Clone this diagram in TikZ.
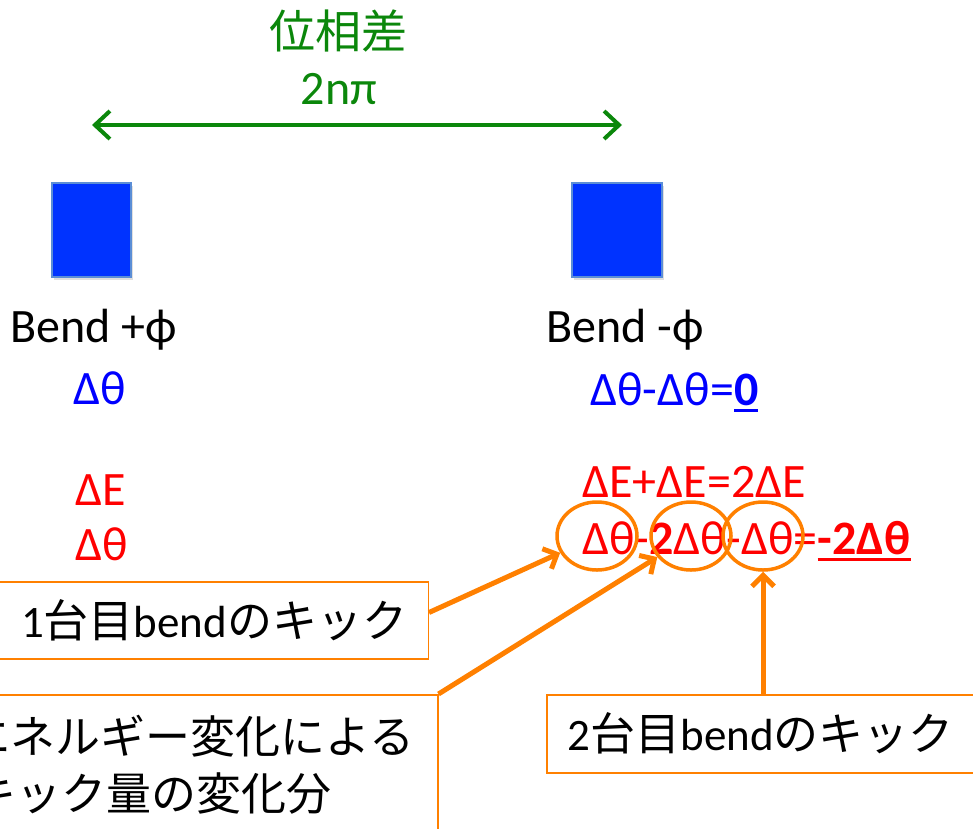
\documentclass[tikz,border=0pt]{standalone}
\usepackage{fontspec}
\setmainfont{Carlito}
\newfontfamily\cjk{Noto Sans CJK JP}
\usetikzlibrary{arrows.meta,shapes.geometric,shadows}
\definecolor{dgreen}{HTML}{0B870B}
\definecolor{bfill}{HTML}{0033FF}
\definecolor{bedge}{HTML}{5B8ED6}
\definecolor{orng}{HTML}{FF8000}
\definecolor{tblue}{HTML}{0000FF}
\definecolor{tred}{HTML}{FF0000}
\newcommand\ulbar[1]{\setbox0\hbox{#1}\rlap{\rule[-7pt]{\wd0}{3.5pt}}\box0}
\begin{document}
\begin{tikzpicture}[x=1pt,y=-1pt,
  lbl/.style={anchor=base west, inner sep=0pt, font=\fontsize{48}{56}\selectfont},
  glbl/.style={anchor=base, inner sep=0pt, text=dgreen},
  magnet/.style={draw=bedge, fill=bfill, line width=2pt, inner sep=0pt,
    drop shadow={opacity=0.25, shadow xshift=2pt, shadow yshift=-3pt}},
  kbox/.style={draw=orng, line width=1.5pt, fill=white, inner ysep=0pt,
    font=\fontsize{45}{57}\selectfont},
  ring/.style={ellipse, draw=orng, line width=3.5pt, minimum width=80pt,
    minimum height=68pt, inner sep=0pt},
  garrow/.style={draw=dgreen, line width=4pt,
    {Straight Barb[length=15pt,width=28pt]}-{Straight Barb[length=15pt,width=28pt]}},
  oarrow/.style={draw=orng, line width=5pt,
    -{Straight Barb[length=11pt,width=22pt]}}
]
\useasboundingbox (0,0) rectangle (973,828);
\clip (0,0) rectangle (973,828);

% phase difference
\node[glbl, font=\cjk\fontsize{46}{50}\selectfont] (title) at (338,48) {位相差};
\node[glbl, font=\fontsize{48}{56}\selectfont] (phase) at (339,104) {2nπ};
\coordinate (ga) at (92,125);
\coordinate (gb) at (622,125);
\draw[garrow] (ga) -- (gb);

% magnets
\node[magnet, minimum width=79pt, minimum height=94pt] (m1) at (91.5,230) {};
\node[magnet, minimum width=90pt, minimum height=94pt] (m2) at (617,230) {};

% left column
\node[lbl] (bl) at (10,342) {Bend +ϕ};
\node[lbl, text=tblue] (dtl) at (73,404) {Δθ};
\node[lbl, text=tred] (del) at (75,505) {ΔE};
\node[lbl, text=tred] (dtl2) at (75,560) {Δθ};

% right column
\node[lbl] (br) at (546,342) {Bend -ϕ};
\node[lbl, text=tblue] (dtr) at (590,405) {Δθ-Δθ=\ulbar{\textbf{0}}};
\node[lbl, text=tred] (der) at (582,497) {ΔE+ΔE=2ΔE};
\node[lbl, text=tred] (dtr2) at (582,554) {Δθ-\textbf{2}Δθ-Δθ=\ulbar{\textbf{-2Δθ}}};

% circles
\node[ring] (e1) at (597,536) {};
\node[ring] (e2) at (691,536) {};
\node[ring] (e3) at (763,536) {};

% callout boxes
\node[kbox, anchor=east, inner xsep=21pt, text width=400pt, align=right,
  minimum height=77pt] (b1) at (429,620.5) {1{\cjk 台目}bend{\cjk のキック}};
\node[kbox, anchor=north west, inner xsep=12pt, text width=460pt, align=left,
  minimum height=140pt, font=\cjk\fontsize{45}{57}\selectfont] (b2) at (-47,694)
  {エネルギー変化による\\\hspace*{6pt}キック量の変化分};
\node[kbox, anchor=north west, inner xsep=21pt, text width=418pt, align=left,
  minimum height=78pt] (b3) at (546,694) {2{\cjk 台目}bend{\cjk のキック}};

% arrows
\draw[oarrow] ([yshift=8pt]b1.east) -- (e1);
\draw[oarrow] (b2.north east) -- (e2);
\draw[oarrow] (e3 |- b3.north) -- (e3);
\end{tikzpicture}
\end{document}
